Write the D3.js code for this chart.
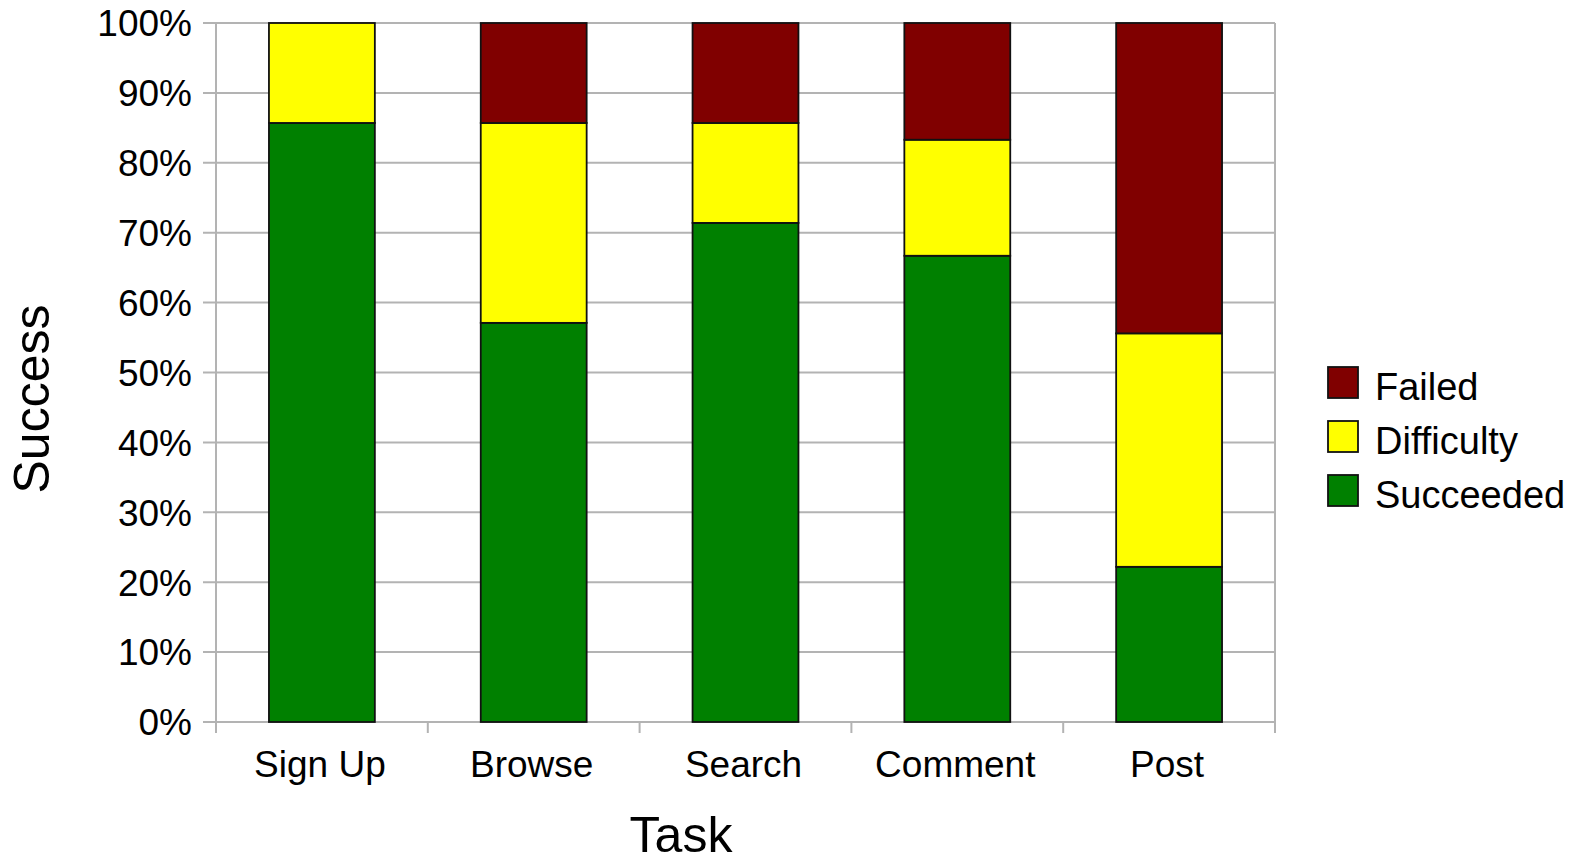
<!DOCTYPE html>
<html><head><meta charset="utf-8">
<script src="https://cdn.jsdelivr.net/npm/d3@7"></script>
<style>body{margin:0;background:#fff}svg{display:block}text{font-family:"Liberation Sans",Arial,sans-serif;fill:#000}</style>
</head><body><svg id="c" width="1575" height="865"></svg>
<script>
const categories = ["Sign Up","Browse","Search","Comment","Post"];
const succeeded = [85.7, 57.1, 71.4, 66.7, 22.2];
const difficulty = [14.3, 28.6, 14.3, 16.6, 33.4];
const failed = [0, 14.3, 14.3, 16.7, 44.4];
const seriesNames = ["Succeeded","Difficulty","Failed"];
const seriesColors = ["#008000","#ffff00","#800000"];
const yTicks = [0,10,20,30,40,50,60,70,80,90,100];

const svg = d3.select("#c");
const L=216, R=1275, T=23, B=722;
const x = d3.scaleBand().domain(categories).range([L,R]).paddingInner(0.5).paddingOuter(0.25);
const xb = d3.scaleBand().domain(categories).range([L,R]);
const y = d3.scaleLinear().domain([0,100]).range([B,T]);
const grid="#b3b3b3";

svg.append("g").selectAll("line").data(yTicks).join("line")
  .attr("x1",L-13).attr("x2",R).attr("y1",d=>y(d)).attr("y2",d=>y(d))
  .attr("stroke",grid).attr("stroke-width",2);
svg.append("line").attr("x1",L).attr("x2",L).attr("y1",T).attr("y2",B+11).attr("stroke",grid).attr("stroke-width",2);
svg.append("line").attr("x1",R).attr("x2",R).attr("y1",T).attr("y2",B+11).attr("stroke",grid).attr("stroke-width",2);
svg.append("g").selectAll("line").data(categories.slice(1)).join("line")
  .attr("x1",d=>xb(d)).attr("x2",d=>xb(d)).attr("y1",B).attr("y2",B+11)
  .attr("stroke",grid).attr("stroke-width",2);

svg.append("g").selectAll("text").data(yTicks).join("text")
  .attr("x",192).attr("y",d=>y(d)).attr("dy","0.36em").attr("text-anchor","end")
  .attr("font-size",37).text(d=>d+"%");

const rows = categories.map((c,i)=>({cat:c, Succeeded:succeeded[i], Difficulty:difficulty[i], Failed:failed[i]}));
const stack = d3.stack().keys(seriesNames)(rows);
svg.append("g").selectAll("g").data(stack).join("g")
  .attr("fill",(d,i)=>seriesColors[i])
  .selectAll("rect").data(d=>d.filter(s=>s[1]-s[0]>0)).join("rect")
  .attr("x",d=>x(d.data.cat)).attr("width",x.bandwidth())
  .attr("y",d=>y(d[1])).attr("height",d=>y(d[0])-y(d[1]))
  .attr("stroke","#111").attr("stroke-width",1.8);

svg.append("g").selectAll("text").data(categories).join("text")
  .attr("x",d=>x(d)+x.bandwidth()/2-2).attr("y",777).attr("text-anchor","middle")
  .attr("font-size",37).text(d=>d);

svg.append("text").attr("x",681).attr("y",852).attr("text-anchor","middle").attr("font-size",50).text("Task");
svg.append("text").attr("transform","translate(49,399) rotate(-90)").attr("text-anchor","middle").attr("font-size",50).text("Success");

const legOrder = [2,1,0];
const lg = svg.append("g").selectAll("g").data(legOrder).join("g")
  .attr("transform",(d,i)=>`translate(1328,${367+i*54})`);
lg.append("rect").attr("width",30).attr("height",31).attr("fill",d=>seriesColors[d]).attr("stroke","#111").attr("stroke-width",1.8);
lg.append("text").attr("x",47).attr("y",33).attr("font-size",38).text(d=>seriesNames[d]);
</script></body></html>
